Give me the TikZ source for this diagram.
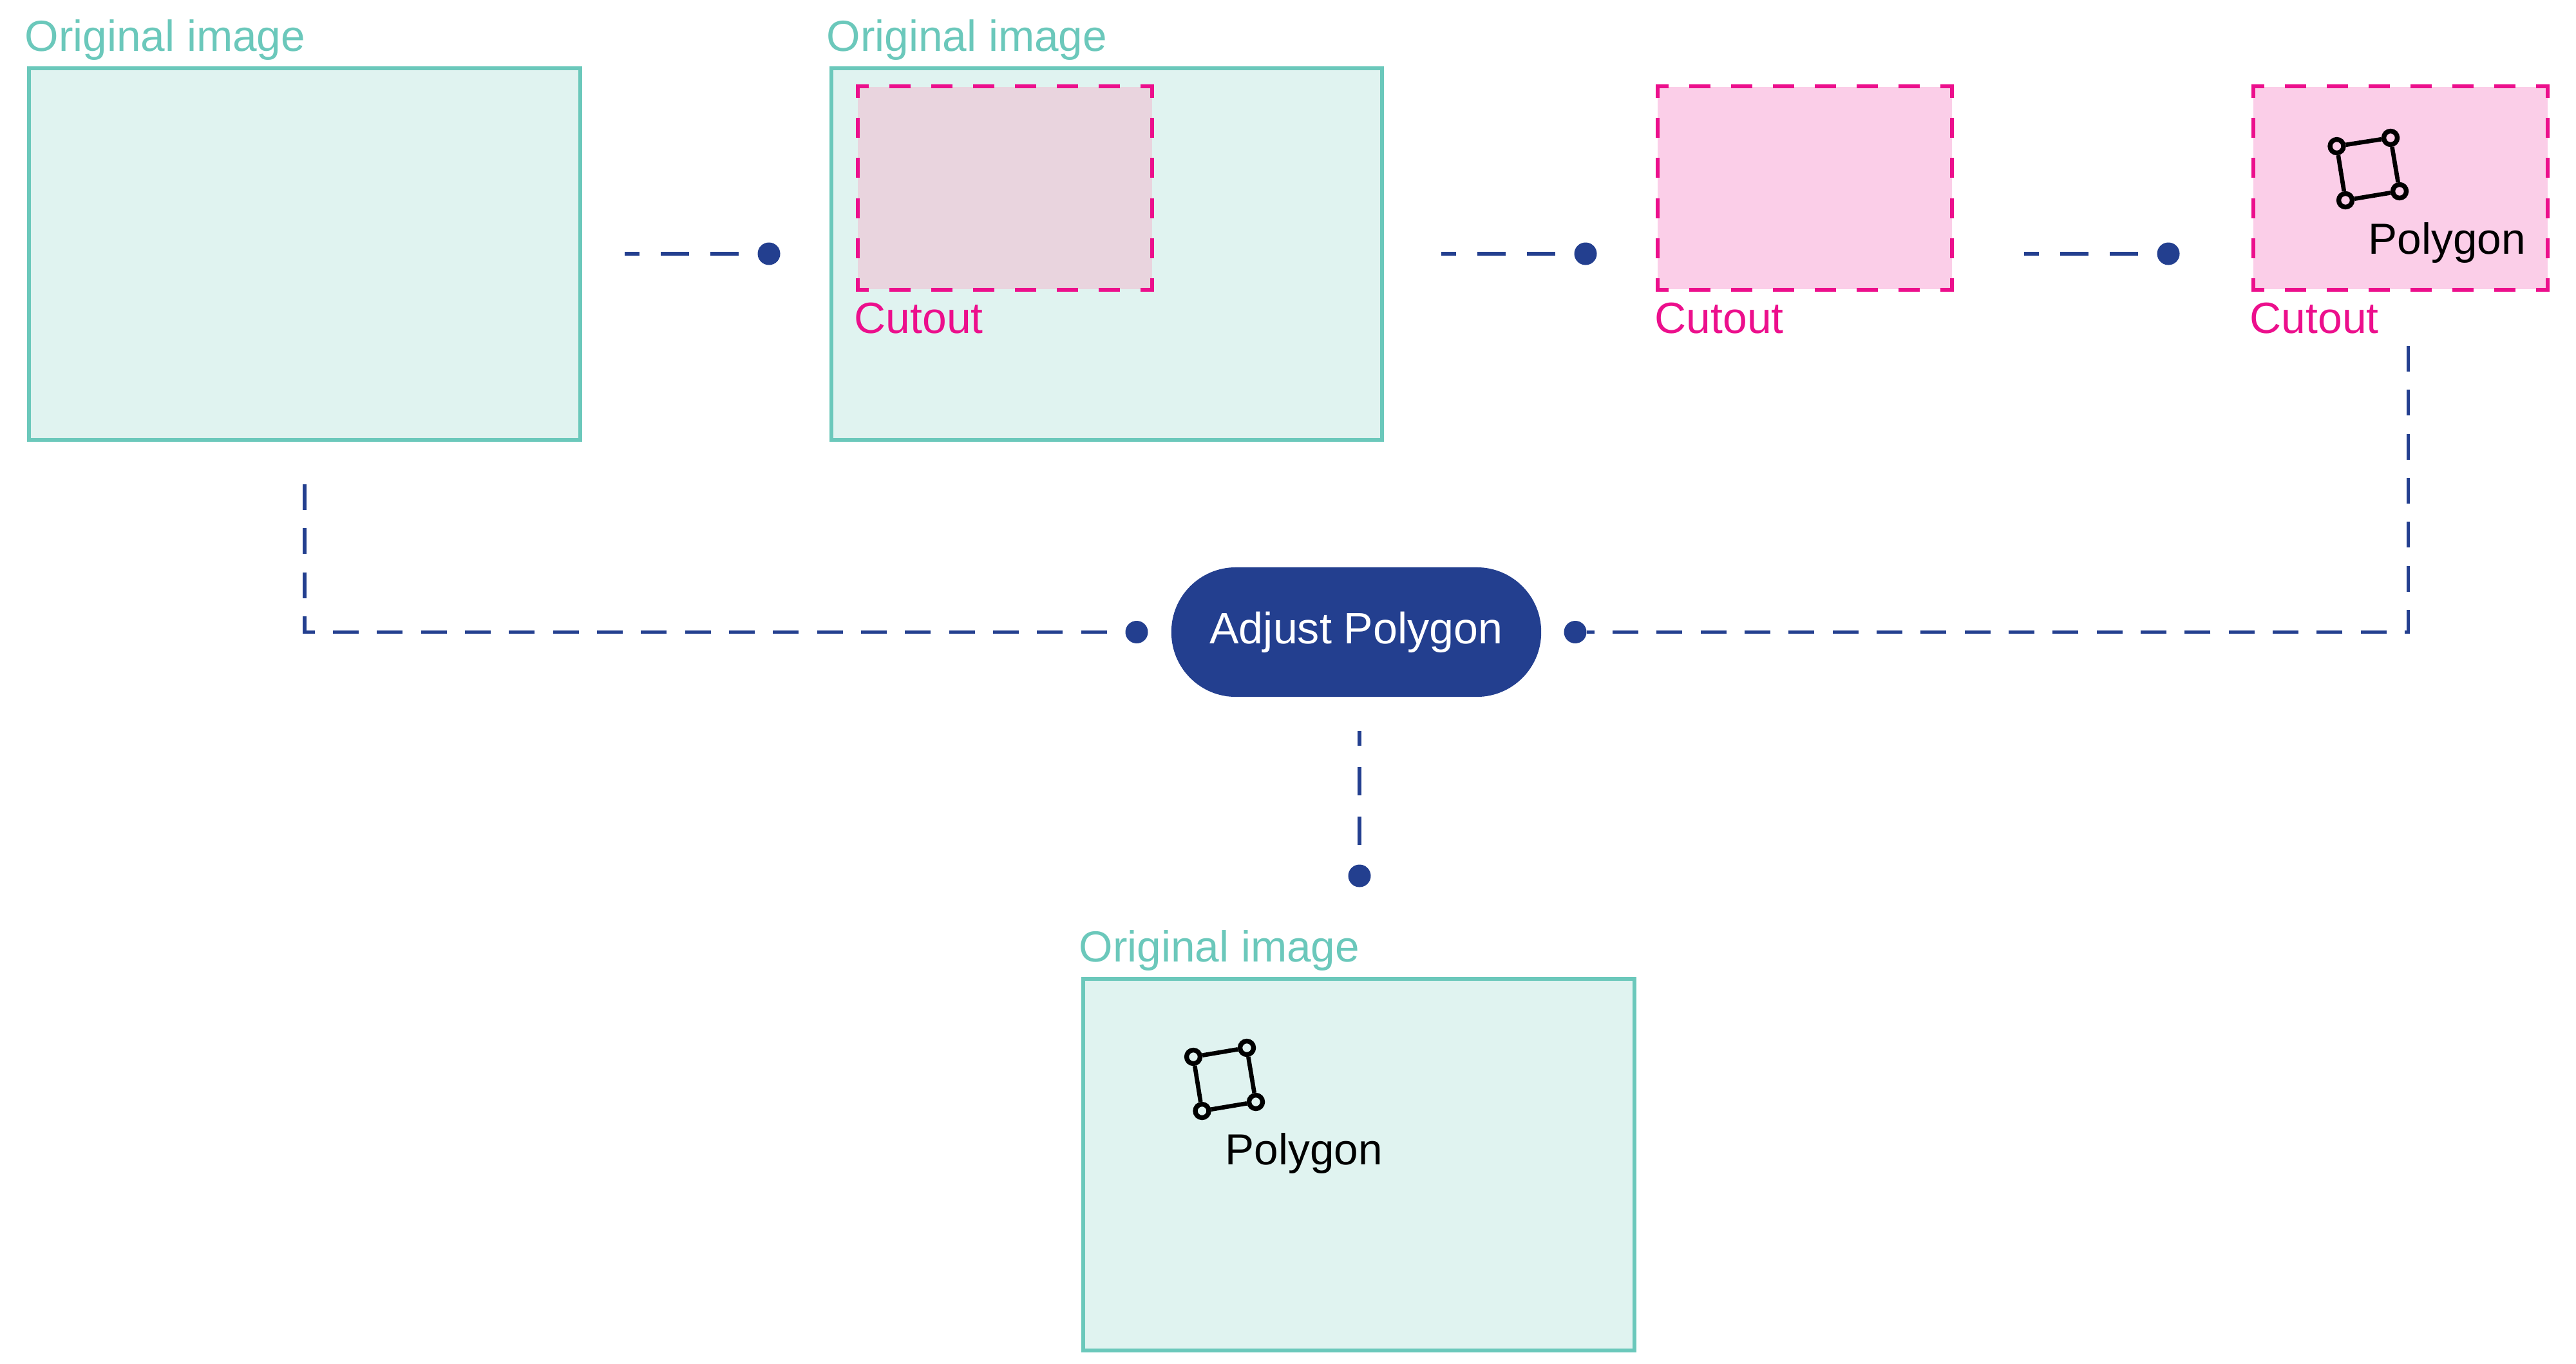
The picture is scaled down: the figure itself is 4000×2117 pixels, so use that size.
\documentclass[tikz,border=0pt]{standalone}
\usepackage{fontspec}
\setmainfont{Liberation Sans}
\usepackage{tikz}
\definecolor{mint}{HTML}{6BC8BB}
\definecolor{mintfill}{HTML}{E0F3F0}
\definecolor{cutpink}{HTML}{EC0F8C}
\definecolor{pinkfill}{HTML}{FBCEE8}
\definecolor{overlapfill}{HTML}{E9D4DE}
\definecolor{navy}{HTML}{233F8F}
\tikzstyle{Photo}=[rectangle, minimum width=8.55cm, minimum height=5.77cm, draw=mint, fill=mintfill, line width=1.6pt]
\tikzstyle{Cut}=[rectangle, minimum width=4.56cm, minimum height=3.14cm, fill=pinkfill]
\tikzstyle{CutH}=[draw=cutpink, line width=1.7pt, line cap=rect, dash pattern=on 0.27cm off 0.38cm, dash phase=0.126cm]
\tikzstyle{CutV}=[draw=cutpink, line width=1.7pt, line cap=rect, dash pattern=on 0.25cm off 0.372cm, dash phase=0.103cm]
\tikzstyle{Wire}=[draw=navy, line width=1.65pt, dash pattern=on 0.44cm off 0.33cm]
\tikzstyle{LongWire}=[draw=navy, line width=1.65pt, dash pattern=on 0.40cm off 0.283cm]
\tikzstyle{Dot}=[circle, fill=navy, minimum size=0.35cm, inner sep=0pt]
\tikzstyle{Pill}=[rectangle, rounded corners=1.0cm, minimum width=5.74cm, minimum height=2.01cm, fill=navy, text=white, font=\fontsize{19.4}{23}\selectfont]
\tikzstyle{ImgLabel}=[anchor=base west, inner sep=0pt, text=mint, font=\fontsize{19.2}{23}\selectfont]
\tikzstyle{CutLabel}=[anchor=base west, inner sep=0pt, text=cutpink, font=\fontsize{19.3}{23}\selectfont]
\tikzstyle{PolyLabel}=[anchor=base west, inner sep=0pt, text=black, font=\fontsize{19.2}{22}\selectfont]
\tikzstyle{Corner}=[circle, draw=black, line width=2.1pt, minimum size=0.21cm, inner sep=0pt]
\tikzstyle{PolyEdge}=[draw=black, line width=1.9pt]
\newcommand{\cutedges}[1]{
    \draw[CutH] (#1.north west) -- (#1.north east);
    \draw[CutH] (#1.south west) -- (#1.south east);
    \draw[CutV] (#1.north west) -- (#1.south west);
    \draw[CutV] (#1.north east) -- (#1.south east);
}
\begin{document}
\begin{tikzpicture}[x=0.01cm, y=-0.01cm]
    \useasboundingbox (0,0) rectangle (4000,2117);

    % images
    \path
    (473,394.5) node[Photo] (first) {}
    (1718.5,394.5) node[Photo] (second) {}
    (2110,1808.5) node[Photo] (result) {};

    % cutouts
    \path
    (1560.5,292) node[Cut, fill=overlapfill] (cutA) {}
    (2802.5,292) node[Cut] (cutB) {}
    (3727.5,292) node[Cut] (cutC) {};
    \cutedges{cutA}
    \cutedges{cutB}
    \cutedges{cutC}

    % labels
    \path
    (38,79) node[ImgLabel] (firstlabel) {Original image}
    (1283,79) node[ImgLabel] (secondlabel) {Original image}
    (1675,1493) node[ImgLabel] (resultlabel) {Original image}
    (1326,517) node[CutLabel] (cutAlabel) {Cutout}
    (2569,517) node[CutLabel] (cutBlabel) {Cutout}
    (3493,517) node[CutLabel] (cutClabel) {Cutout}
    (3677,394) node[PolyLabel] (polyC) {Polygon}
    (1902,1808) node[PolyLabel] (polyR) {Polygon};

    % polygon in the last cutout
    \path
    (3628.5,227) node[Corner, fill=pinkfill] (c1) {}
    (3712,214) node[Corner, fill=pinkfill] (c2) {}
    (3726,297) node[Corner, fill=pinkfill] (c3) {}
    (3642,311) node[Corner, fill=pinkfill] (c4) {};
    \draw[PolyEdge] (c1) -- (c2);
    \draw[PolyEdge] (c2) -- (c3);
    \draw[PolyEdge] (c3) -- (c4);
    \draw[PolyEdge] (c4) -- (c1);

    % polygon in the result
    \path
    (1853,1641) node[Corner, fill=mintfill] (r1) {}
    (1936,1627) node[Corner, fill=mintfill] (r2) {}
    (1950,1711) node[Corner, fill=mintfill] (r3) {}
    (1866.5,1725) node[Corner, fill=mintfill] (r4) {};
    \draw[PolyEdge] (r1) -- (r2);
    \draw[PolyEdge] (r2) -- (r3);
    \draw[PolyEdge] (r3) -- (r4);
    \draw[PolyEdge] (r4) -- (r1);

    % adjust step and dots
    \path
    (2106,981.5) node[Pill] (adjust) {Adjust Polygon}
    (1194,394) node[Dot] (dotA) {}
    (2462,394) node[Dot] (dotB) {}
    (3367,394) node[Dot] (dotC) {}
    (1765,981.5) node[Dot] (dotL) {}
    (2446,981.5) node[Dot] (dotR) {}
    (2111,1360) node[Dot] (dotD) {};

    \coordinate (startA) at (970,394);
    \coordinate (startB) at (2238,394);
    \coordinate (startC) at (3143,394);
    \coordinate (startL) at (473,752);
    \coordinate (startR) at (3739.5,537);
    \coordinate (startD) at (2111,1135);

    \draw[Wire, dash phase=0.21cm] (startA) -- (dotA);
    \draw[Wire, dash phase=0.21cm] (startB) -- (dotB);
    \draw[Wire, dash phase=0.21cm] (startC) -- (dotC);
    \draw[Wire, dash phase=0.21cm] (startD) -- (dotD);
    \draw[LongWire] (startL) |- (dotL);
    \draw[LongWire] (startR) |- (dotR);
\end{tikzpicture}
\end{document}
